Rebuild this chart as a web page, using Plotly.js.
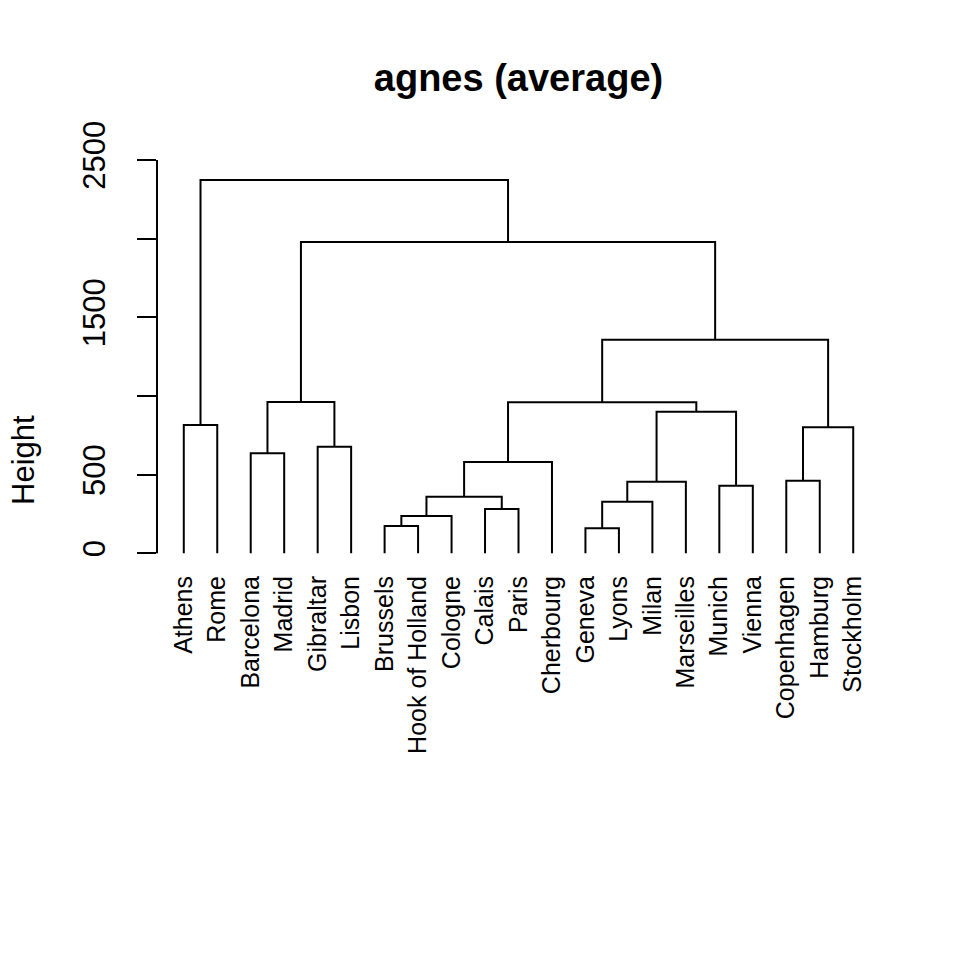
<!DOCTYPE html>
<html>
<head>
<meta charset="utf-8">
<script src="https://cdn.plot.ly/plotly-3.0.1.min.js"></script>
<style>html,body{margin:0;padding:0;background:#fff;}#chart{width:960px;height:960px;}</style>
</head>
<body>
<div id="chart"></div>
<script>
// Leaf labels in dendrogram order
const leafLabels = ["Athens","Rome","Barcelona","Madrid","Gibraltar","Lisbon","Brussels","Hook of Holland","Cologne","Calais","Paris","Cherbourg","Geneva","Lyons","Milan","Marseilles","Munich","Vienna","Copenhagen","Hamburg","Stockholm"];
// Merge steps (R hclust convention: negative = leaf number in order above, positive = earlier merge step)
const mergeLeft   = [-13, -7, 2, -10, 1, 3, -17, 5, -19, 6, -3, -5, 9, -1, 8, 10, 11, 16, 17, 14];
const mergeRight  = [-14, -8, -9, -11, -15, 4, -18, -16, -20, -12, -4, -6, -21, -2, 7, 15, 12, 13, 18, 19];
const mergeHeight = [159, 174, 237, 282, 328, 360, 430, 455, 461, 580, 636, 678, 801, 815, 900, 960, 962, 1358, 1979, 2373];
// Y axis ticks
const yTickVals = [0, 500, 1000, 1500, 2000, 2500];
const yTickText = ["0", "500", "", "1500", "", "2500"];

const leafPos = leafLabels.map((_, i) => i + 1);
const nodeX = [], nodeH = [];
function childPos(c) {
  if (c < 0) return { x: leafPos[-c - 1], h: 0 };
  return { x: nodeX[c - 1], h: nodeH[c - 1] };
}
const xs = [], ys = [];
for (let i = 0; i < mergeHeight.length; i++) {
  const a = childPos(mergeLeft[i]);
  const b = childPos(mergeRight[i]);
  const h = mergeHeight[i];
  xs.push(a.x, a.x, b.x, b.x, null);
  ys.push(a.h, h, h, b.h, null);
  nodeX.push((a.x + b.x) / 2);
  nodeH.push(h);
}

const FONT = "Liberation Sans, Arial, Helvetica, sans-serif";
const trace = {
  type: "scatter", mode: "lines", x: xs, y: ys,
  line: { color: "#000", width: 2 }, hoverinfo: "skip", showlegend: false,
  connectgaps: false
};

const layout = {
  width: 960, height: 960,
  paper_bgcolor: "#fff", plot_bgcolor: "#fff",
  margin: { l: 157, r: 80, t: 140, b: 390 },
  font: { family: FONT, color: "#000" },
  title: {
    text: "<b>agnes (average)</b>",
    font: { family: FONT, size: 38, color: "#000" },
    xref: "paper", x: 0.5, xanchor: "center",
    yref: "container", y: 1 - 78 / 960, yanchor: "middle"
  },
  xaxis: {
    range: [0.2, leafLabels.length + 0.8],
    tickvals: leafPos, ticktext: leafLabels, tickangle: -90,
    tickfont: { family: FONT, size: 25, color: "#000" },
    showgrid: false, zeroline: false, showline: false, ticks: "",
    fixedrange: true
  },
  yaxis: {
    range: [-106, 2627],
    tickvals: yTickVals, ticktext: yTickText, tickangle: -90,
    tickfont: { family: FONT, size: 31, color: "#000" },
    ticks: "outside", ticklen: 19, tickwidth: 2, tickcolor: "#000",
    ticklabelstandoff: 20,
    showgrid: false, zeroline: false, showline: false,
    fixedrange: true
  },
  shapes: [{
    type: "line", xref: "paper", x0: 0, x1: 0, yref: "y",
    y0: yTickVals[0], y1: yTickVals[yTickVals.length - 1],
    line: { color: "#000", width: 2 }
  }],
  annotations: [{
    text: "Height", xref: "paper", yref: "paper",
    x: (23 - 157) / 723, y: (570 - 460) / 430,
    xanchor: "center", yanchor: "middle", textangle: -90, showarrow: false,
    font: { family: FONT, size: 31, color: "#000" }
  }]
};

Plotly.newPlot("chart", [trace], layout, { staticPlot: true, displayModeBar: false });
</script>
</body>
</html>
